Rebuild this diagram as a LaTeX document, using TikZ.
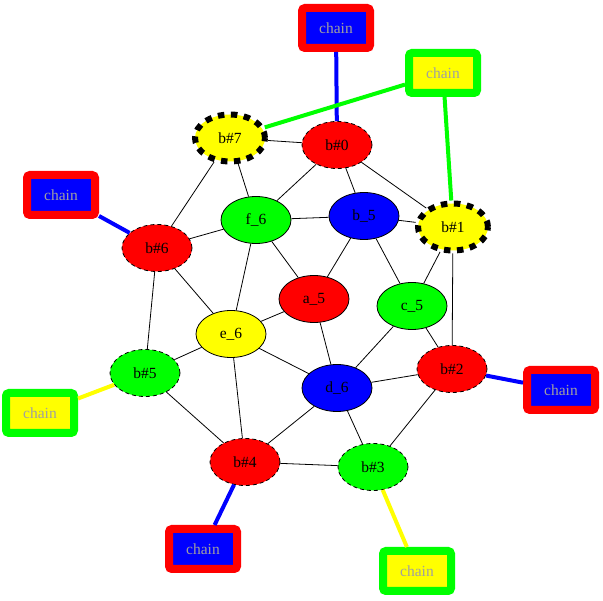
\documentclass[tikz,border=0pt]{standalone}
\usepackage{fontspec}
\setmainfont{Liberation Serif}
\usetikzlibrary{shapes.geometric}
\definecolor{vred}{RGB}{255,0,0}
\definecolor{vblue}{RGB}{0,0,255}
\definecolor{vgreen}{RGB}{0,255,0}
\definecolor{vyellow}{RGB}{255,255,0}
\definecolor{chaingray}{RGB}{160,160,160}

\tikzset{
  vtx/.style={ellipse,draw,minimum width=70pt,minimum height=47pt,inner sep=0pt,
    font=\fontsize{15.5}{17}\selectfont},
  solidv/.style={vtx,line width=0.8pt},
  thinv/.style={vtx,line width=0.8pt,dash pattern=on 4pt off 3pt},
  boldv/.style={vtx,line width=6pt,dash pattern=on 6.5pt off 6.5pt},
  chainbox/.style={rectangle,draw,rounded corners=3pt,line width=8pt,
    minimum width=68pt,minimum height=40pt,text=chaingray,
    font=\fontsize{15.5}{17}\selectfont},
  link/.style={line width=4pt}
}

\begin{document}
\begin{tikzpicture}[x=1pt,y=-1pt]
  \useasboundingbox (0,0) rectangle (603,601);

  % chain boxes
  \node[chainbox,draw=vred,fill=vblue] (ca) at (336,28) {chain};
  \node[chainbox,draw=vgreen,fill=vyellow] (cb) at (443,73) {chain};
  \node[chainbox,draw=vred,fill=vblue] (cc) at (61,195) {chain};
  \node[chainbox,draw=vgreen,fill=vyellow] (cd) at (40,413) {chain};
  \node[chainbox,draw=vred,fill=vblue] (ce) at (561,390) {chain};
  \node[chainbox,draw=vred,fill=vblue] (cf) at (203,549) {chain};
  \node[chainbox,draw=vgreen,fill=vyellow] (cg) at (417,571) {chain};

  % vertices
  \node[thinv,fill=vred] (b0) at (337,145) {b\#0};
  \node[boldv,fill=vyellow] (b7) at (230,138) {b\#7};
  \node[boldv,fill=vyellow] (b1) at (453,227) {b\#1};
  \node[thinv,fill=vred] (b6) at (157,248) {b\#6};
  \node[solidv,fill=vgreen] (f6) at (256,220) {f\_6};
  \node[solidv,fill=vblue] (bu5) at (364,216) {b\_5};
  \node[solidv,fill=vred] (a5) at (314,299) {a\_5};
  \node[solidv,fill=vgreen] (c5) at (412,306) {c\_5};
  \node[solidv,fill=vyellow] (e6) at (231,334) {e\_6};
  \node[thinv,fill=vgreen] (b5) at (145,373) {b\#5};
  \node[solidv,fill=vblue] (d6) at (337,388) {d\_6};
  \node[thinv,fill=vred] (b2) at (452,369) {b\#2};
  \node[thinv,fill=vred] (b4) at (245,462) {b\#4};
  \node[thinv,fill=vgreen] (b3) at (373,467) {b\#3};

  % graph edges
  \foreach \u/\v in {b7/b0,b7/f6,b7/b6,b0/f6,b0/bu5,b0/b1,bu5/b1,f6/bu5,
      f6/b6,f6/a5,f6/e6,bu5/a5,bu5/c5,b1/c5,b1/b2,b6/e6,b6/b5,a5/e6,
      a5/d6,c5/d6,c5/b2,e6/b5,e6/b4,e6/d6,b5/b4,d6/b4,d6/b2,d6/b3,
      b2/b3,b4/b3}
    \draw[line width=0.8pt] (\u) -- (\v);

  % chain links
  \draw[link,vblue] (ca) -- (b0);
  \draw[link,vgreen] (cb) -- (b1);
  \draw[link,vgreen] (cb) -- (b7);
  \draw[link,vblue] (cc) -- (b6);
  \draw[link,vyellow] (cd) -- (b5);
  \draw[link,vblue] (ce) -- (b2);
  \draw[link,vblue] (cf) -- (b4);
  \draw[link,vyellow] (cg) -- (b3);
\end{tikzpicture}
\end{document}
